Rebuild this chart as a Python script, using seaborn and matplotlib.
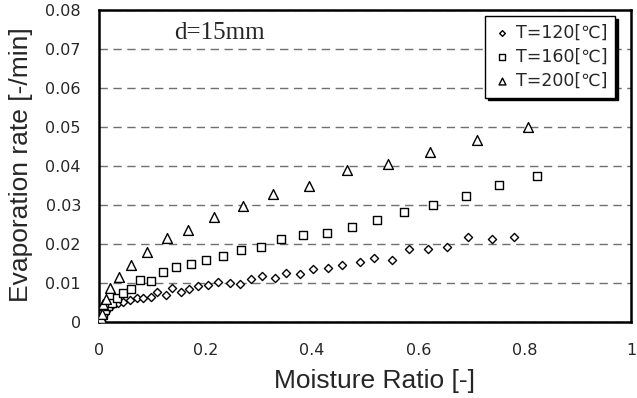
import matplotlib
matplotlib.use("Agg")
import matplotlib.pyplot as plt
from matplotlib.ticker import FuncFormatter, MultipleLocator
import seaborn as sns
import pandas as pd

# T=120 [C]
x_120 = [0.003, 0.005, 0.008, 0.010, 0.013, 0.016, 0.020, 0.024, 0.036, 0.045, 0.058,
         0.071, 0.083, 0.097, 0.109, 0.126, 0.138, 0.155, 0.170, 0.187, 0.205, 0.224,
         0.246, 0.265, 0.285, 0.306, 0.330, 0.352, 0.378, 0.402, 0.430, 0.456, 0.490,
         0.517, 0.550, 0.583, 0.619, 0.655, 0.694, 0.738, 0.781]
y_120 = [0.0005, 0.0010, 0.0015, 0.0020, 0.0028, 0.0035, 0.0040, 0.0044, 0.0048, 0.0052,
         0.0056, 0.0061, 0.0062, 0.0065, 0.0078, 0.0068, 0.0086, 0.0077, 0.0084, 0.0092,
         0.0095, 0.0103, 0.0099, 0.0097, 0.0110, 0.0118, 0.0112, 0.0125, 0.0123, 0.0136,
         0.0139, 0.0147, 0.0154, 0.0165, 0.0159, 0.0186, 0.0186, 0.0192, 0.0219, 0.0214,
         0.0217]

# T=160 [C]
x_160 = [0.004, 0.008, 0.012, 0.016, 0.024, 0.034, 0.045, 0.061, 0.078, 0.098, 0.120,
         0.145, 0.173, 0.201, 0.234, 0.267, 0.304, 0.342, 0.384, 0.429, 0.475, 0.522,
         0.574, 0.628, 0.689, 0.752, 0.824]
y_160 = [0.0010, 0.0020, 0.0030, 0.0040, 0.0048, 0.0061, 0.0075, 0.0085, 0.0108, 0.0105,
         0.0129, 0.0140, 0.0149, 0.0159, 0.0170, 0.0185, 0.0193, 0.0212, 0.0223, 0.0229,
         0.0243, 0.0262, 0.0281, 0.0300, 0.0323, 0.0350, 0.0373]

# T=200 [C]
x_200 = [0.003, 0.006, 0.008, 0.014, 0.021, 0.038, 0.060, 0.091, 0.127, 0.168, 0.216,
         0.270, 0.328, 0.395, 0.466, 0.544, 0.622, 0.711, 0.806]
y_200 = [0.0010, 0.0020, 0.0045, 0.0060, 0.0086, 0.0115, 0.0146, 0.0179, 0.0215, 0.0236,
         0.0270, 0.0297, 0.0327, 0.0349, 0.0390, 0.0405, 0.0436, 0.0467, 0.0500]

labels = ["T=120[℃]", "T=160[℃]", "T=200[℃]"]

sns.set_style("white")
plt.rcParams['font.family'] = ['DejaVu Sans', 'Noto Sans CJK JP']

fig = plt.figure(figsize=(6.37, 3.98), dpi=100)
ax = fig.add_axes([0.1554, 0.191, 0.8352, 0.784])

series = [(x_120, y_120, 'D', 17), (x_160, y_160, 's', 36), (x_200, y_200, '^', 50)]
for (xs, ys, m, s), lab in zip(series, labels):
    df = pd.DataFrame({'x': xs, 'y': ys})
    sns.scatterplot(data=df, x='x', y='y', marker=m, s=s, facecolor='white',
                    edgecolor='black', linewidth=1.0, label=lab, ax=ax, zorder=3)

ax.set_xlim(0, 1)
ax.set_ylim(0, 0.08)
ax.xaxis.set_major_locator(MultipleLocator(0.2))
ax.yaxis.set_major_locator(MultipleLocator(0.01))
fmt = FuncFormatter(lambda v, p: '{:g}'.format(round(v, 4)))
ax.xaxis.set_major_formatter(fmt)
ax.yaxis.set_major_formatter(fmt)
ax.tick_params(direction='in', length=5, width=1, labelsize=11.5, color='black')
ax.tick_params(axis='x', pad=15)
ax.tick_params(axis='y', length=0, pad=13)

ax.yaxis.grid(True, linestyle=(0, (6, 4)), color='#707070', linewidth=1.0)
ax.set_axisbelow(True)
for sp in ax.spines.values():
    sp.set_visible(True)
    sp.set_color('black')
    sp.set_linewidth(1.8)

ax.set_xlabel('Moisture Ratio [-]', fontsize=19, family=['Liberation Sans'])
ax.set_ylabel('Evaporation rate [-/min]', fontsize=19, family=['Liberation Sans'])
ax.xaxis.set_label_coords(0.518, -0.152)
ax.yaxis.set_label_coords(-0.124, 0.503)

ax.text(0.227, 0.926, 'd=15mm', transform=ax.transAxes, fontsize=18,
        family=['Liberation Serif'], va='center', ha='center')

leg = ax.legend(loc='upper right', bbox_to_anchor=(0.970, 0.981), borderaxespad=0,
                fancybox=False, frameon=True, edgecolor='black', fontsize=12.5,
                shadow={'color': 'black', 'alpha': 1}, handletextpad=0.3,
                labelspacing=0.35, borderpad=0.45, handlelength=1.0, markerscale=0.7)
leg.get_frame().set_linewidth(1.0)
leg.get_frame().set_alpha(1)

fig.savefig('out.png', dpi=100)
